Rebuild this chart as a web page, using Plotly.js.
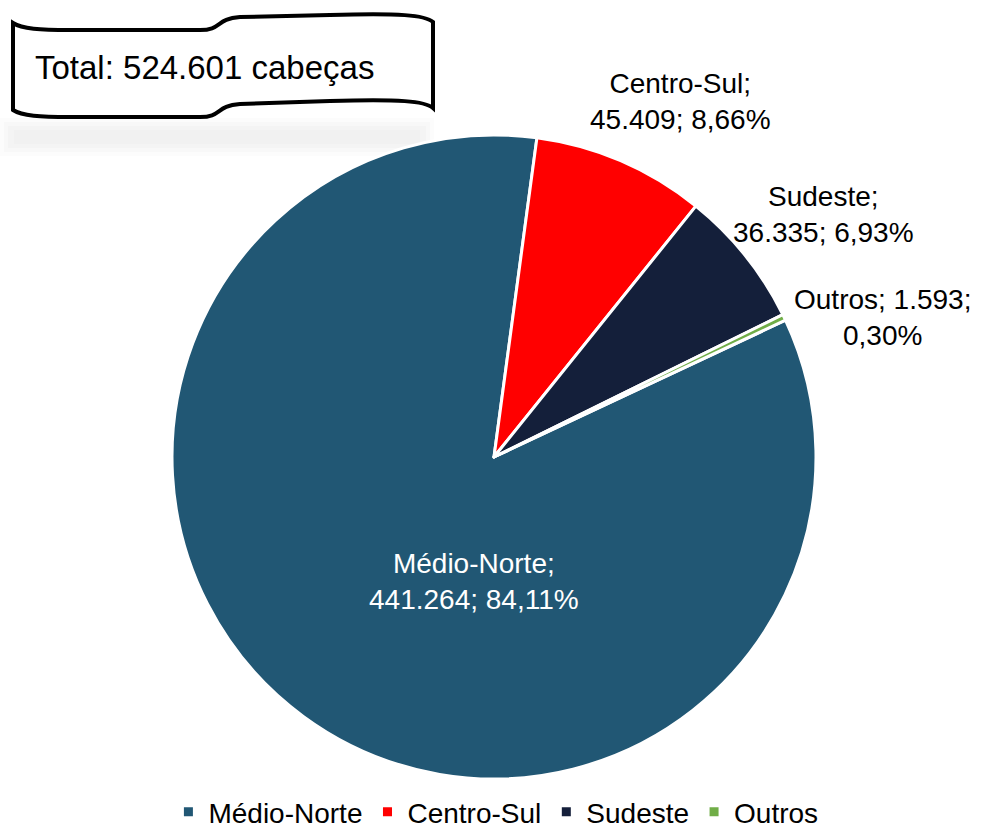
<!DOCTYPE html>
<html>
<head>
<meta charset="utf-8">
<script src="https://cdn.plot.ly/plotly-3.0.1.min.js"></script>
<style>html,body{margin:0;padding:0;background:#fff;}#chart{width:982px;height:837px;}</style>
</head>
<body>
<div id="chart"></div>
<script>
// ---- data ----
var regions = ["Médio-Norte", "Centro-Sul", "Sudeste", "Outros"];
var heads = [441264, 45409, 36335, 1593];
var totalLabel = "Total: 524.601 cabeças";

// ---- styling ----
var colors = ["#215774", "#FF0000", "#141F3A", "#70AD47"];
var labelColors = ["#FFFFFF", "#000000", "#000000", "#000000"];
var labelPos = [[474, 581], [680, 101], [823, 215], [882, 317]]; // pixel centres of data labels
var W = 982, H = 837;
var FONT = "Liberation Sans, Arial, sans-serif";

function px(x) { return x / W; }
function py(y) { return 1 - y / H; }

function fmtInt(v) {
  return String(v).replace(/\B(?=(\d{3})+(?!\d))/g, ".");
}
var total = heads.reduce(function (a, b) { return a + b; }, 0);
function fmtPct(v) {
  return (v / total * 100).toFixed(2).replace(".", ",") + "%";
}

var labelTexts = regions.map(function (r, i) {
  if (i === 3) return r + "; " + fmtInt(heads[i]) + ";<br>" + fmtPct(heads[i]);
  return r + ";<br>" + fmtInt(heads[i]) + "; " + fmtPct(heads[i]);
});

var annotations = labelTexts.map(function (t, i) {
  return {
    xref: "paper", yref: "paper",
    x: px(labelPos[i][0]), y: py(labelPos[i][1]),
    xanchor: "center", yanchor: "middle",
    text: t, showarrow: false, align: "center",
    font: { family: FONT, size: 28, color: labelColors[i] }
  };
});
annotations.push({
  xref: "paper", yref: "paper", x: px(204), y: py(68),
  xanchor: "center", yanchor: "middle", showarrow: false,
  text: totalLabel, font: { family: FONT, size: 33, color: "#000" }
});

// scroll/wave shaped box path in pixel coords -> paper coords
function P(x, y) { return px(x).toFixed(5) + "," + py(y).toFixed(5); }
var scrollPath =
  "M" + P(13, 23) +
  " C" + P(22, 29) + " " + P(40, 30) + " " + P(70, 30) +
  " L" + P(200, 30) +
  " C" + P(222, 30) + " " + P(215, 19) + " " + P(240, 17) +
  " L" + P(330, 15) +
  " C" + P(400, 13) + " " + P(425, 15) + " " + P(433, 22) +
  " L" + P(433, 108) +
  " C" + P(425, 101) + " " + P(400, 99) + " " + P(330, 101) +
  " L" + P(240, 104) +
  " C" + P(215, 106) + " " + P(222, 117) + " " + P(200, 117) +
  " L" + P(70, 117) +
  " C" + P(40, 117) + " " + P(22, 116) + " " + P(13, 110) +
  " Z";

var shapes = [];
// soft shadow under the box
var shadowSteps = [[0, 118, 434, 156, 0.012], [4, 122, 430, 152, 0.014], [8, 126, 426, 148, 0.016], [14, 130, 420, 144, 0.012]];
shadowSteps.forEach(function (s) {
  shapes.push({
    type: "rect", xref: "paper", yref: "paper", layer: "below",
    x0: px(s[0]), x1: px(s[2]), y0: py(s[3]), y1: py(s[1]),
    fillcolor: "rgba(0,0,0," + s[4] + ")", line: { width: 0 }
  });
});
shapes.push({
  type: "path", xref: "paper", yref: "paper", layer: "above",
  path: scrollPath, fillcolor: "#FFFFFF",
  line: { color: "#000000", width: 4 }
});

var trace = {
  type: "pie",
  labels: regions,
  values: heads,
  sort: false,
  direction: "clockwise",
  rotation: 64.85,
  textinfo: "none",
  hoverinfo: "label+value+percent",
  marker: { colors: colors, line: { color: "#FFFFFF", width: 3 } },
  domain: { x: [px(172), px(816)], y: [py(779), py(135)] }
};

var layout = {
  width: W, height: H,
  margin: { l: 0, r: 0, t: 0, b: 0 },
  paper_bgcolor: "#FFFFFF",
  font: { family: FONT, color: "#000" },
  showlegend: true,
  legend: {
    orientation: "h", x: 0.505, xanchor: "center", y: 0, yanchor: "bottom",
    font: { family: FONT, size: 28, color: "#000" },
    traceorder: "normal"
  },
  annotations: annotations,
  shapes: shapes
};

Plotly.newPlot("chart", [trace], layout, { displayModeBar: false, staticPlot: true });
</script>
</body>
</html>
